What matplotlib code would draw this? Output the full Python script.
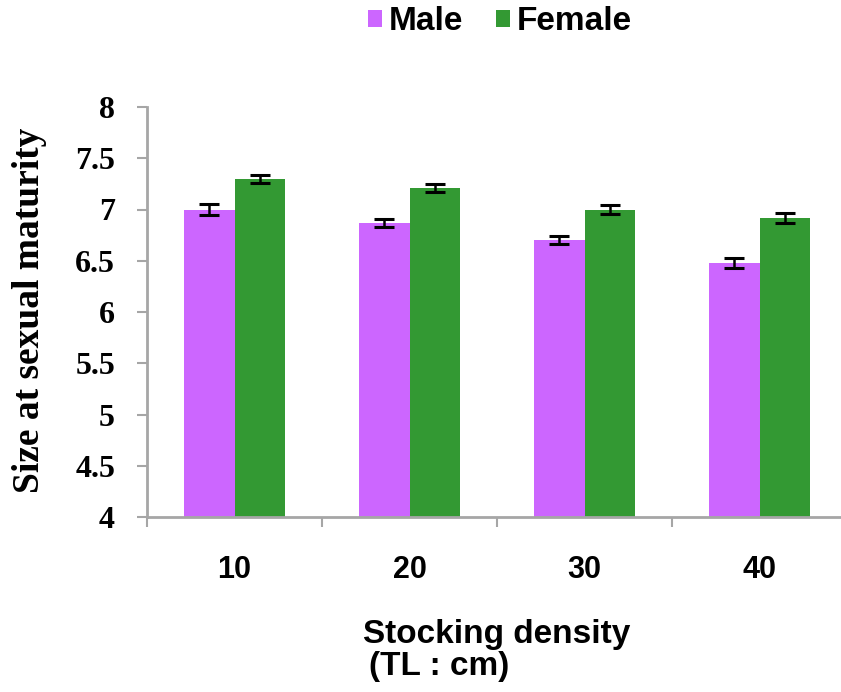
import matplotlib
matplotlib.use("Agg")
import matplotlib.pyplot as plt
import numpy as np
from matplotlib.ticker import FixedLocator

categories = ["10", "20", "30", "40"]
male = [7.0, 6.87, 6.7, 6.48]
female = [7.3, 7.21, 7.0, 6.92]
male_err = [0.05, 0.04, 0.04, 0.05]
female_err = [0.04, 0.04, 0.04, 0.05]
yticks = [4, 4.5, 5, 5.5, 6, 6.5, 7, 7.5, 8]
ytick_labels = ["4", "4.5", "5", "5.5", "6", "6.5", "7", "7.5", "8"]

W, H = 841, 692
fig = plt.figure(figsize=(W / 100, H / 100), dpi=100)
ax = fig.add_axes([147 / W, (H - 517) / H, 700 / W, 410 / H])

x = np.arange(len(categories))
bw = 0.29
magenta = "#CC66FF"
green = "#339933"
grey = "#A6A6A6"

ax.bar(x - bw / 2, male, bw, color=magenta, label="Male", zorder=2)
ax.bar(x + bw / 2, female, bw, color=green, label="Female", zorder=2)
ax.errorbar(x - bw / 2, male, yerr=male_err, fmt="none", ecolor="black",
            elinewidth=1.8, capsize=7, capthick=2.2, zorder=3)
ax.errorbar(x + bw / 2, female, yerr=female_err, fmt="none", ecolor="black",
            elinewidth=1.8, capsize=7, capthick=2.2, zorder=3)

ax.set_xlim(-0.5, len(categories) - 0.5)
ax.set_ylim(4, 8)
ax.set_yticks(yticks)
ax.set_yticklabels(ytick_labels, fontfamily="Liberation Serif",
                   fontweight="bold", fontsize=23)
ax.set_xticks(x)
ax.set_xticklabels(categories, fontfamily="Liberation Sans",
                   fontweight="bold", fontsize=22)
ax.xaxis.set_minor_locator(FixedLocator(np.arange(-0.5, len(categories), 1.0)))
ax.tick_params(axis="x", which="major", length=0, pad=27)
ax.tick_params(axis="x", which="minor", length=7, width=1.5, color=grey, direction="out")
ax.tick_params(axis="y", length=7, width=1.5, color=grey, direction="out", pad=16)

for s in ["top", "right"]:
    ax.spines[s].set_visible(False)
for s in ["left", "bottom"]:
    ax.spines[s].set_color(grey)
    ax.spines[s].set_linewidth(2)

fig.text(30 / W, 1 - 310 / H, "Size at sexual maturity", fontfamily="Liberation Serif",
         fontweight="bold", fontsize=27, rotation=90, ha="center", va="center")

fig.text(363 / W, 1 - 635 / H, "Stocking density", fontfamily="Liberation Sans",
         fontweight="bold", fontsize=24, ha="left", va="center")
fig.text(369 / W, 1 - 667 / H, "(TL : cm)", fontfamily="Liberation Sans",
         fontweight="bold", fontsize=24, ha="left", va="center")

leg = fig.legend(loc="center", bbox_to_anchor=(500 / W, 1 - 22 / H), ncol=2,
                 frameon=False, handlelength=0.42, handleheight=0.42,
                 handletextpad=0.2, columnspacing=1.0,
                 prop={"family": "Liberation Sans", "weight": "bold", "size": 24})

fig.savefig("out.png", dpi=100)
